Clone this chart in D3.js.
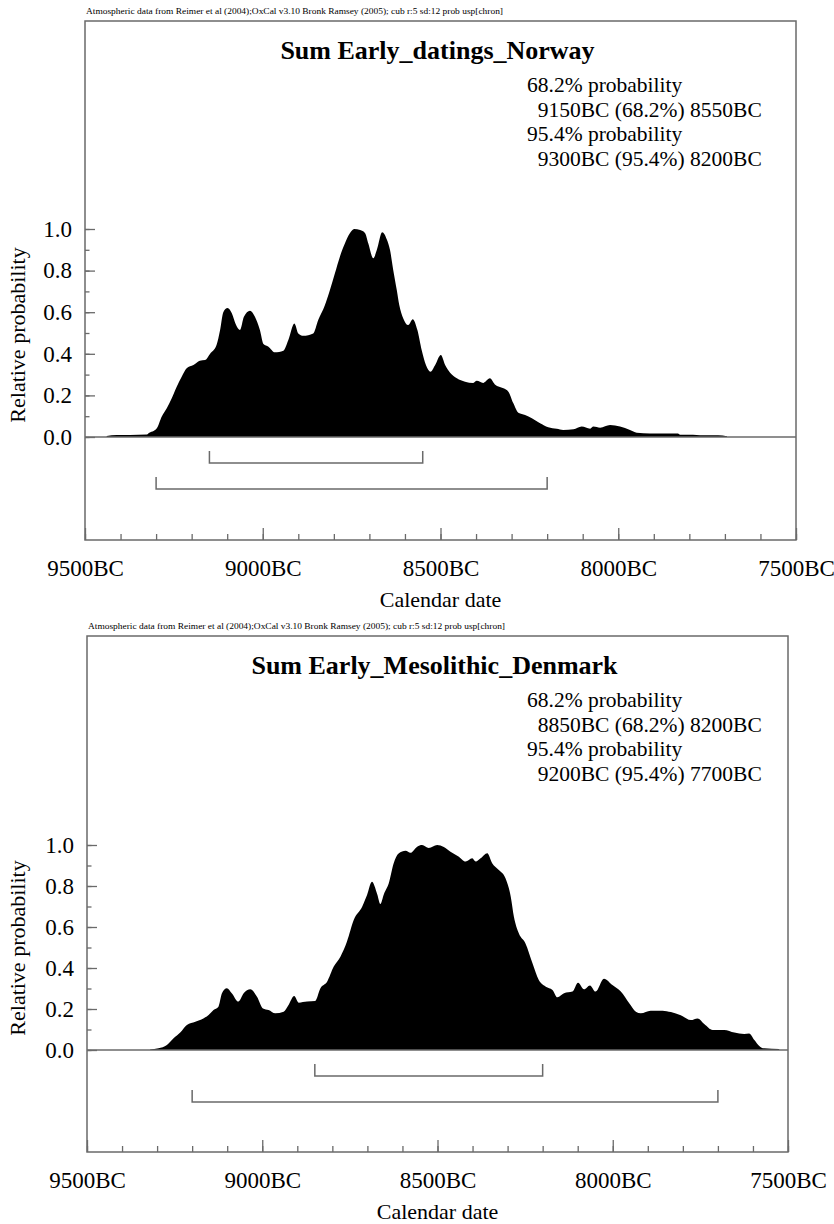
<!DOCTYPE html>
<html>
<head>
<meta charset="utf-8">
<script src="https://cdn.jsdelivr.net/npm/d3@7/dist/d3.min.js"></script>
<style>
  body { margin: 0; background: #fff; }
  svg text { font-family: "Liberation Serif", "Times New Roman", serif; fill: #000; }
</style>
</head>
<body>
<script>

// header line printed above each plot
var headerText = "Atmospheric data from Reimer et al (2004);OxCal v3.10 Bronk Ramsey (2005); cub r:5 sd:12 prob usp[chron]";

var xTickLabels = [9500, 9000, 8500, 8000, 7500];
var xMinorTicks = d3.range(9500, 7499, -100);
var yTickLabels = [0, 0.2, 0.4, 0.6, 0.8, 1.0];
var yMinorTicks = d3.range(0, 1.01, 0.1);

// Norway sum (calendar year BC, relative probability)
var norwayYears = [9439, 9411, 9373, 9326, 9322, 9298, 9284, 9270, 9256, 9242, 9228, 9214, 9195, 9177, 9162, 9148,
    9130, 9120, 9111, 9099, 9087, 9075, 9064, 9053, 9036, 9022, 9008, 8998, 8984, 8966, 8942, 8928, 8911, 8900,
    8886, 8858, 8844, 8825, 8811, 8797, 8783, 8769, 8755, 8743, 8726, 8712, 8703, 8689, 8679, 8664, 8651, 8642,
    8633, 8623, 8616, 8605, 8591, 8578, 8565, 8553, 8541, 8528, 8515, 8499, 8487, 8473, 8454, 8431, 8408, 8398,
    8380, 8361, 8347, 8323, 8309, 8295, 8281, 8262, 8243, 8220, 8197, 8173, 8155, 8126, 8103, 8079, 8070, 8051,
    8023, 7995, 7967, 7948, 7911, 7832, 7826, 7790, 7770, 7719, 7694];
var norwayProb = [0.005, 0.01, 0.01, 0.012, 0.017, 0.042, 0.098, 0.138, 0.186, 0.242, 0.29, 0.33, 0.346, 0.367, 0.37, 0.40,
    0.442, 0.514, 0.60, 0.62, 0.595, 0.538, 0.514, 0.578, 0.607, 0.578, 0.514, 0.447, 0.434, 0.407, 0.415, 0.466, 0.546, 0.498,
    0.487, 0.498, 0.562, 0.635, 0.707, 0.787, 0.867, 0.93, 0.979, 1.0, 0.995, 0.98, 0.93, 0.859, 0.90, 0.984, 0.95, 0.899,
    0.803, 0.707, 0.635, 0.571, 0.538, 0.566, 0.514, 0.418, 0.346, 0.314, 0.346, 0.394, 0.346, 0.309, 0.282, 0.266, 0.26, 0.27,
    0.26, 0.282, 0.253, 0.234, 0.218, 0.162, 0.117, 0.106, 0.09, 0.066, 0.047, 0.04, 0.034, 0.037, 0.05, 0.04, 0.05, 0.045,
    0.058, 0.05, 0.034, 0.021, 0.017, 0.017, 0.011, 0.011, 0.008, 0.008, 0.004];

// Denmark sum
var denmarkYears = [9320, 9296, 9272, 9253, 9234, 9215, 9191, 9168, 9153, 9139, 9125, 9115, 9101, 9087, 9068, 9053,
    9034, 9015, 8998, 8982, 8963, 8939, 8925, 8909, 8896, 8872, 8849, 8834, 8815, 8796, 8777, 8758, 8739, 8715,
    8701, 8687, 8672, 8663, 8653, 8639, 8625, 8611, 8591, 8577, 8558, 8544, 8525, 8501, 8482, 8463, 8439, 8420,
    8401, 8391, 8377, 8358, 8344, 8325, 8306, 8291, 8282, 8268, 8249, 8229, 8211, 8191, 8172, 8158, 8139, 8115,
    8099, 8082, 8065, 8049, 8025, 8001, 7977, 7953, 7934, 7920, 7892, 7858, 7834, 7806, 7777, 7758, 7739, 7715,
    7682, 7653, 7625, 7611, 7596, 7582, 7568, 7525];
var denmarkProb = [0.003, 0.008, 0.024, 0.057, 0.085, 0.122, 0.138, 0.154, 0.171, 0.195, 0.211, 0.277, 0.301, 0.277, 0.236, 0.277,
    0.296, 0.26, 0.203, 0.195, 0.179, 0.187, 0.22, 0.263, 0.231, 0.236, 0.239, 0.301, 0.333, 0.407, 0.455, 0.53, 0.634, 0.699,
    0.756, 0.821, 0.76, 0.712, 0.76, 0.813, 0.911, 0.959, 0.972, 0.962, 0.992, 1.0, 0.985, 1.0, 0.99, 0.967, 0.943, 0.919,
    0.935, 0.919, 0.935, 0.96, 0.911, 0.878, 0.838, 0.748, 0.65, 0.569, 0.52, 0.423, 0.341, 0.309, 0.293, 0.257, 0.277, 0.285,
    0.328, 0.296, 0.315, 0.285, 0.348, 0.317, 0.285, 0.228, 0.187, 0.179, 0.192, 0.192, 0.185, 0.169, 0.146, 0.154, 0.127, 0.098,
    0.098, 0.085, 0.078, 0.081, 0.049, 0.02, 0.008, 0.005];

var norwayTitle = "Sum Early_datings_Norway";
var norwayText = ["68.2% probability", "  9150BC (68.2%) 8550BC", "95.4% probability", "  9300BC (95.4%) 8200BC"];
var norwayRanges = [[9150, 8550], [9300, 8200]];

var denmarkTitle = "Sum Early_Mesolithic_Denmark";
var denmarkText = ["68.2% probability", "  8850BC (68.2%) 8200BC", "95.4% probability", "  9200BC (95.4%) 7700BC"];
var denmarkRanges = [[8850, 8200], [9200, 7700]];

var w = 834, h = 1224;
var svg = d3.select("body").append("svg")
    .attr("width", w)
    .attr("height", h);

var frameColor = "#6a6a6a";

function drawPanel(p) {
    var g = svg.append("g");

    var xScale = d3.scaleLinear().domain([9500, 7500]).range([p.left, p.right]);
    var yScale = d3.scaleLinear().domain([0, 1]).range([p.zero, p.one]);

    g.append("text")
        .attr("x", p.left + 1)
        .attr("y", p.top - 7)
        .attr("textLength", 417)
        .attr("lengthAdjust", "spacingAndGlyphs")
        .style("font-size", "8px")
        .text(headerText);

    // filled probability curve
    var data = p.years.map(function(d, i) { return {year: d, prob: p.prob[i]}; });
    var area = d3.area()
        .x(function(d) { return xScale(d.year); })
        .y0(yScale(0))
        .y1(function(d) { return yScale(d.prob); })
        .curve(d3.curveMonotoneX);
    g.append("path")
        .datum(data)
        .attr("d", area)
        .attr("fill", "#000");

    // baseline
    g.append("line")
        .attr("x1", p.left).attr("x2", p.right)
        .attr("y1", yScale(0)).attr("y2", yScale(0))
        .attr("stroke", frameColor)
        .attr("stroke-width", 1.3);

    // frame
    g.append("rect")
        .attr("x", p.left).attr("y", p.top)
        .attr("width", p.right - p.left)
        .attr("height", p.bottom - p.top)
        .attr("fill", "none")
        .attr("stroke", frameColor)
        .attr("stroke-width", 1.5);

    // x axis, ticks point up into the frame
    var xMinor = g.append("g")
        .attr("transform", "translate(0," + p.bottom + ")")
        .call(d3.axisBottom(xScale).tickValues(xMinorTicks).tickSize(-6).tickFormat(""));
    var xMajor = g.append("g")
        .attr("transform", "translate(0," + p.bottom + ")")
        .call(d3.axisBottom(xScale).tickValues(xTickLabels).tickSize(-12).tickPadding(20)
            .tickFormat(function(d) { return d + "BC"; }));
    [xMinor, xMajor].forEach(function(a) {
        a.select(".domain").remove();
        a.selectAll("line").attr("stroke", frameColor).attr("stroke-width", 1.3);
        a.selectAll("text").style("font-size", "23px").attr("font-family", null);
    });

    // y axis, ticks point right
    var yMinor = g.append("g")
        .attr("transform", "translate(" + p.left + ",0)")
        .call(d3.axisLeft(yScale).tickValues(yMinorTicks).tickSize(-4.5).tickFormat(""));
    var yMajor = g.append("g")
        .attr("transform", "translate(" + p.left + ",0)")
        .call(d3.axisLeft(yScale).tickValues(yTickLabels).tickSize(-10).tickPadding(13)
            .tickFormat(d3.format(".1f")));
    [yMinor, yMajor].forEach(function(a) {
        a.select(".domain").remove();
        a.selectAll("line").attr("stroke", frameColor).attr("stroke-width", 1.3);
        a.selectAll("text").style("font-size", "23px").attr("font-family", null);
    });

    // range brackets
    p.ranges.forEach(function(r, i) {
        var yb = yScale(0) + 26 * (i + 1);
        var x1 = xScale(r[0]), x2 = xScale(r[1]);
        g.append("path")
            .attr("d", "M" + x1 + "," + (yb - 12) + "V" + yb + "H" + x2 + "V" + (yb - 12))
            .attr("fill", "none")
            .attr("stroke", frameColor)
            .attr("stroke-width", 1.5);
    });

    g.append("text")
        .attr("x", (p.left + p.right) / 2 - 3)
        .attr("y", p.top + 38)
        .attr("text-anchor", "middle")
        .style("font-size", "26px")
        .style("font-weight", "bold")
        .text(p.title);

    g.selectAll(".ptext")
        .data(p.text)
        .enter()
        .append("text")
        .attr("x", 527)
        .attr("y", function(d, i) { return p.top + 71 + i * 24.5; })
        .attr("xml:space", "preserve")
        .style("white-space", "pre")
        .style("font-size", "21.5px")
        .text(function(d) { return d; });

    g.append("text")
        .attr("transform", "translate(" + 25 + "," + (yScale(0) - 102) + ") rotate(-90)")
        .attr("text-anchor", "middle")
        .style("font-size", "22px")
        .text("Relative probability");

    g.append("text")
        .attr("x", (p.left + p.right) / 2)
        .attr("y", p.bottom + 67)
        .attr("text-anchor", "middle")
        .style("font-size", "22px")
        .text("Calendar date");
}

drawPanel({left: 85, right: 796, top: 21, bottom: 540, zero: 437, one: 229,
    years: norwayYears, prob: norwayProb, title: norwayTitle, text: norwayText, ranges: norwayRanges});
drawPanel({left: 87, right: 788, top: 636, bottom: 1152, zero: 1050, one: 845,
    years: denmarkYears, prob: denmarkProb, title: denmarkTitle, text: denmarkText, ranges: denmarkRanges});

</script>
</body>
</html>
